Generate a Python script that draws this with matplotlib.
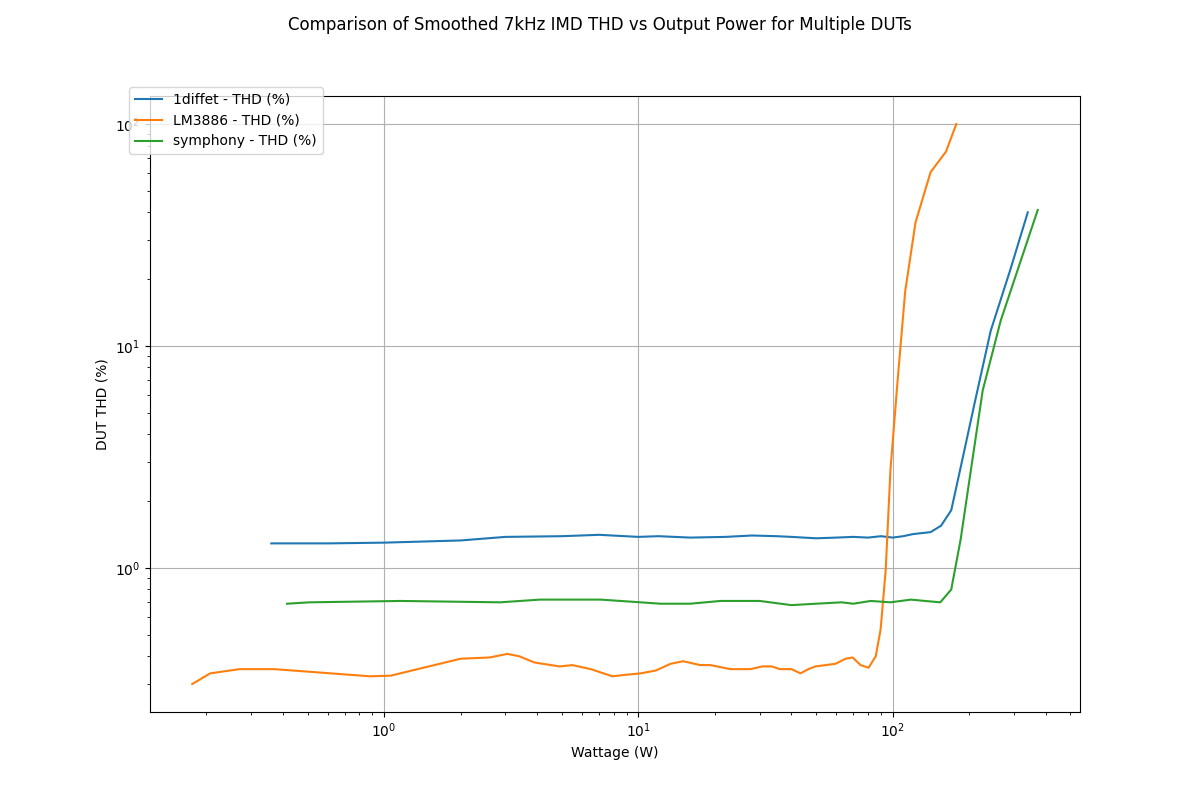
import matplotlib
matplotlib.use("Agg")
import matplotlib.pyplot as plt

blue_w = [0.36, 0.6, 1.0, 2.0, 3.0, 5.0, 7.0, 10.0, 12.0, 16.0, 22.0, 28.0, 35.0, 40.0, 50.0, 60.0, 70.0, 80.0, 90.0, 100.0, 110.0, 120.0, 141.0, 155.0, 170.0, 184.0, 211.0, 243.0, 290.0, 340.0]
blue_t = [1.29, 1.29, 1.30, 1.33, 1.38, 1.39, 1.41, 1.38, 1.39, 1.37, 1.38, 1.40, 1.39, 1.38, 1.36, 1.37, 1.38, 1.37, 1.39, 1.37, 1.39, 1.42, 1.45, 1.55, 1.82, 2.75, 5.66, 11.7, 22.0, 40.0]

orange_w = [0.176, 0.207, 0.27, 0.37, 0.88, 1.06, 2.0, 2.6, 3.05, 3.4, 3.9, 4.9, 5.5, 6.5, 7.9, 8.9, 10.2, 11.7, 13.4, 15.0, 17.5, 19.2, 23.0, 27.6, 30.7, 33.5, 36.0, 40.0, 43.4, 46.6, 49.7, 54.5, 59.6, 65.3, 69.6, 74.8, 80.4, 85.8, 89.7, 93.9, 98.0, 104.6, 112.0, 123.0, 141.0, 162.0, 178.0]
orange_t = [0.30, 0.335, 0.35, 0.35, 0.325, 0.327, 0.39, 0.395, 0.41, 0.40, 0.375, 0.36, 0.365, 0.35, 0.325, 0.33, 0.335, 0.345, 0.37, 0.38, 0.365, 0.365, 0.35, 0.35, 0.36, 0.36, 0.35, 0.35, 0.335, 0.35, 0.36, 0.365, 0.37, 0.39, 0.395, 0.365, 0.355, 0.40, 0.53, 0.98, 2.75, 7.0, 17.6, 36.0, 60.7, 75.0, 100.0]

green_w = [0.415, 0.51, 1.16, 2.86, 4.1, 7.1, 10.2, 12.2, 16.0, 21.0, 30.0, 40.0, 50.0, 63.0, 70.0, 82.0, 98.0, 118.0, 134.0, 154.0, 170.0, 185.0, 203.0, 226.0, 266.0, 372.0]
green_t = [0.69, 0.70, 0.71, 0.70, 0.72, 0.72, 0.70, 0.69, 0.69, 0.71, 0.71, 0.68, 0.69, 0.70, 0.69, 0.71, 0.70, 0.72, 0.71, 0.70, 0.80, 1.34, 2.75, 6.3, 13.0, 41.0]

fig, ax = plt.subplots(figsize=(12, 8), dpi=100)
ax.plot(blue_w, blue_t, label="1diffet - THD (%)")
ax.plot(orange_w, orange_t, label="LM3886 - THD (%)")
ax.plot(green_w, green_t, label="symphony - THD (%)")
ax.set_xscale("log")
ax.set_yscale("log")
ax.set_xlabel("Wattage (W)")
ax.set_ylabel("DUT THD (%)")
ax.grid(True)
ax.legend(loc="upper left", bbox_to_anchor=(-0.03, 1.026))
fig.suptitle("Comparison of Smoothed 7kHz IMD THD vs Output Power for Multiple DUTs")
fig.savefig("out.png")
